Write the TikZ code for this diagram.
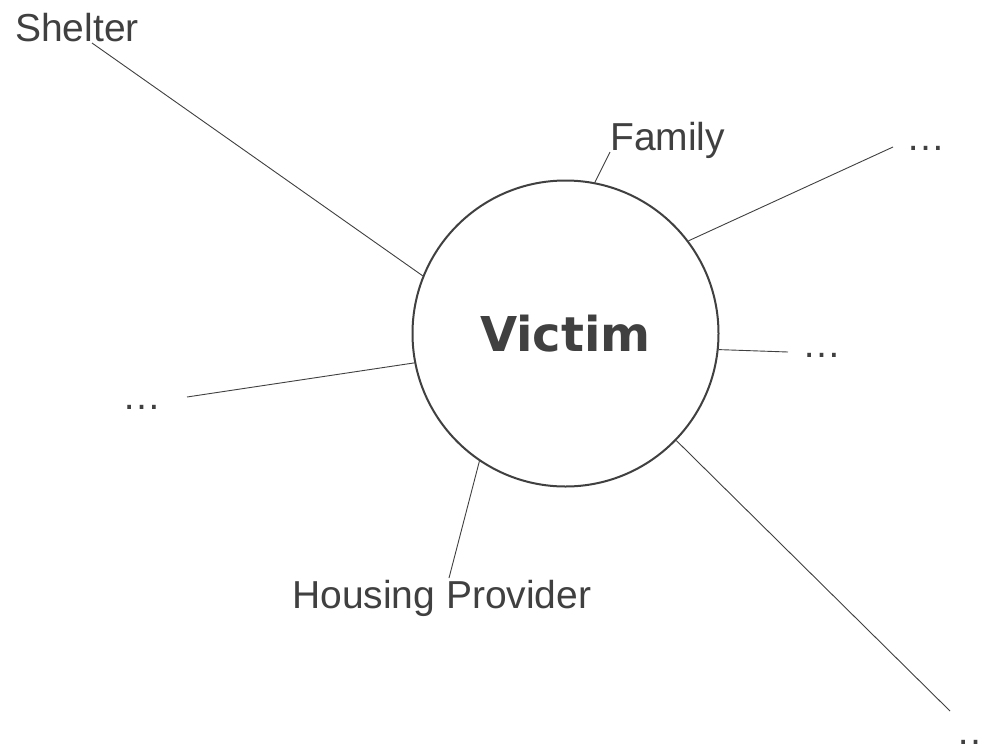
\documentclass[tikz,border=0pt]{standalone}
\usepackage{fontspec}
\setmainfont{Liberation Sans}
\newfontfamily\victimfont{DejaVu Sans}
\definecolor{ink}{HTML}{404040}
\begin{document}
\begin{tikzpicture}[x=1pt,y=-1pt,
  lbl/.style={anchor=base west,inner sep=0pt,text=ink,font=\fontsize{39}{46}\selectfont},
  hub/.style={circle,draw=ink,line width=2pt,minimum size=306pt,inner sep=0pt,text=ink,
    font=\victimfont\bfseries\fontsize{48}{56}\selectfont},
  link/.style={draw=ink,line width=0.9pt}]
\useasboundingbox[fill=white] (0,0) rectangle (986,745);
\node[hub] (v) at (565.5,333.5) {Victim};
% labels
\node[lbl] (shelter) at (15,41) {Shelter};
\node[lbl] (family) at (610,150) {Family};
\node[lbl] (housing) at (292,608) {Housing Provider};
\node[lbl] (etcTR) at (906,150) {…};
\node[lbl] (etcR) at (802,357) {…};
\node[lbl] (etcL) at (122,409) {…};
\node[lbl] (etcBR) at (956,744) {…};
% free ends
\coordinate (sh) at (92,43);
\coordinate (fa) at (610,152);
\coordinate (tr) at (893,147);
\coordinate (rt) at (788,352);
\coordinate (lf) at (187,397);
\coordinate (ho) at (449,578);
\coordinate (br) at (950,711);
% connectors
\draw[link] (sh) -- (v.158.2);
\draw[link] (fa) -- (v.79.7);
\draw[link] (tr) -- (v.37.1);
\draw[link] (rt) -- (v.-6.8);
\draw[link] (lf) -- (v.191.7);
\draw[link] (ho) -- (v.236.7);
\draw[link] (br) -- (v.-44.7);
\end{tikzpicture}
\end{document}
